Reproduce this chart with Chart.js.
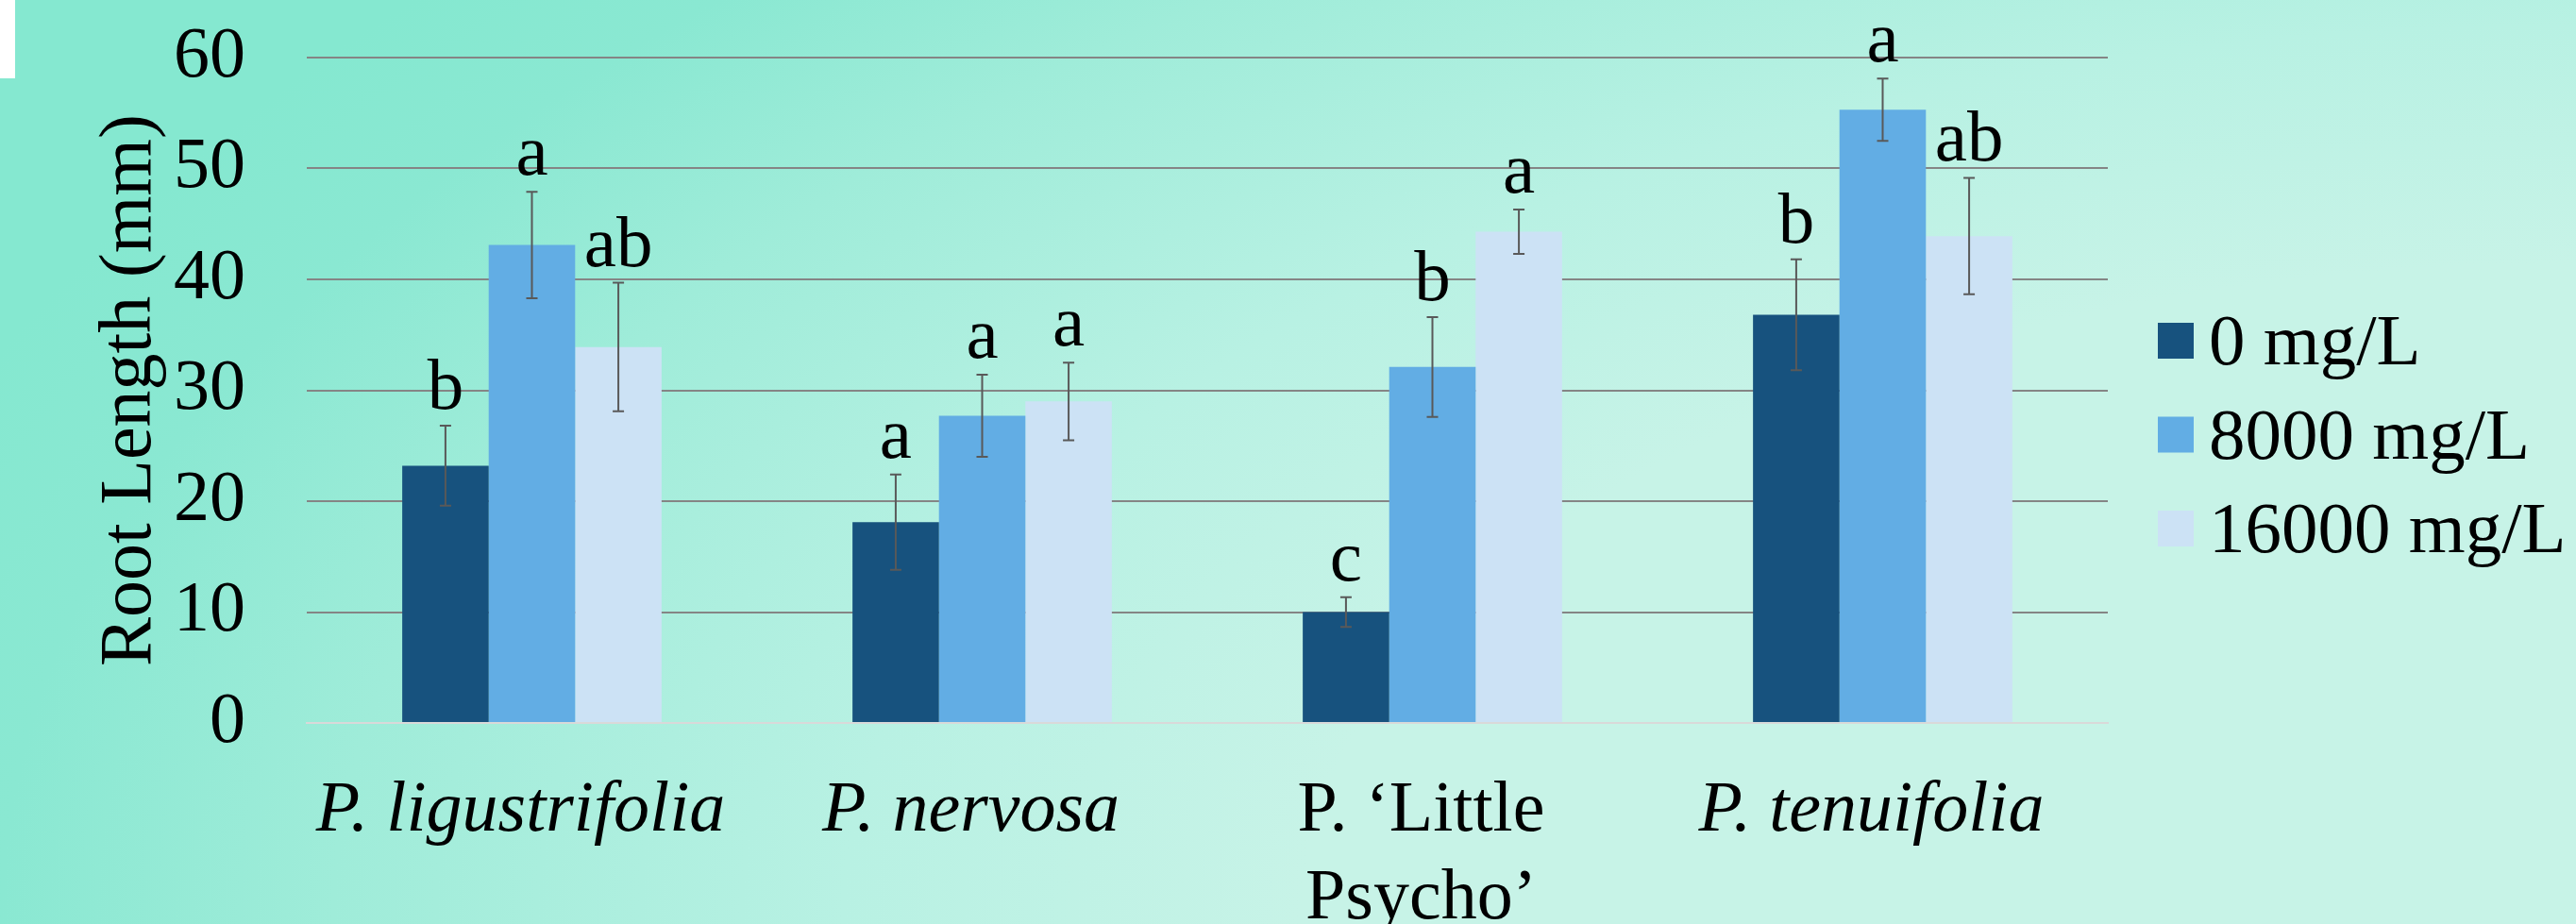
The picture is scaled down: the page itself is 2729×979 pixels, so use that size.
<!DOCTYPE html>
<html>
<head>
<meta charset="utf-8">
<script src="https://cdn.jsdelivr.net/npm/chart.js@4.4.1/dist/chart.umd.min.js"></script>
<style>
  html, body { margin: 0; padding: 0; }
  body {
    width: 2729px; height: 979px; overflow: hidden; position: relative;
    background: radial-gradient(ellipse 2700px 1400px at 2729px 979px,
      #c7f3e7 0%, #c7f3e7 50%, #b8f1e3 68%, #9fecd9 88%, #8ae8d2 101%, #85e8d0 110%);
  }
  #corner { position: absolute; left: 0; top: 0; width: 16px; height: 83px; background: #ffffff; }
  canvas { position: absolute; left: 0; top: 0; }
</style>
</head>
<body>
<div id="corner"></div>
<canvas id="chart" width="2729" height="979"></canvas>
<script>
// Species / cultivars on the category axis
const categories = ['P. ligustrifolia', 'P. nervosa', ['P. \u2018Little', 'Psycho\u2019'], 'P. tenuifolia'];

// Treatment names (legend)
const seriesNames = ['0 mg/L', '8000 mg/L', '16000 mg/L'];

// Mean root length (mm) per treatment
const root0 = [23.2, 18.1, 10.0, 36.8];
const root8000 = [43.1, 27.7, 32.1, 55.3];
const root16000 = [33.9, 29.0, 44.3, 43.9];

// Standard error of each mean (mm)
const err0 = [3.6, 4.3, 1.35, 5.0];
const err8000 = [4.8, 3.7, 4.5, 2.8];
const err16000 = [5.8, 3.5, 2.0, 5.25];

// Mean-separation letters
const letters0 = ['b', 'a', 'c', 'b'];
const letters8000 = ['a', 'a', 'b', 'a'];
const letters16000 = ['ab', 'a', 'a', 'ab'];

// Value axis
const yMin = 0;
const yMax = 60;
const yStep = 10;

const seriesColors = ['#17527e', '#62ade4', '#cce2f5'];
const SERIF = '"Liberation Serif", "Times New Roman", serif';

// Error bars with caps, plus the letter above each bar
const errorBarsAndLetters = {
  id: 'errorBarsAndLetters',
  afterDatasetsDraw(chart) {
    const ctx = chart.ctx;
    const y = chart.scales.y;
    chart.data.datasets.forEach((ds, di) => {
      const meta = chart.getDatasetMeta(di);
      meta.data.forEach((bar, i) => {
        const v = ds.data[i];
        const e = ds.errors[i];
        const yTop = y.getPixelForValue(v + e);
        const yBot = y.getPixelForValue(v - e);
        const x = bar.x;
        const cap = 6;
        ctx.save();
        ctx.strokeStyle = '#595959';
        ctx.lineWidth = 2;
        ctx.beginPath();
        ctx.moveTo(x, yTop); ctx.lineTo(x, yBot);
        ctx.moveTo(x - cap, yTop); ctx.lineTo(x + cap, yTop);
        ctx.moveTo(x - cap, yBot); ctx.lineTo(x + cap, yBot);
        ctx.stroke();
        ctx.fillStyle = '#000000';
        ctx.font = '77px ' + SERIF;
        ctx.textAlign = 'center';
        ctx.textBaseline = 'alphabetic';
        ctx.fillText(ds.letters[i], x, yTop - 18);
        ctx.restore();
      });
    });
  }
};

// Legend stacked at the right of the plot
const sideLegend = {
  id: 'sideLegend',
  afterDraw(chart) {
    const { ctx, chartArea } = chart;
    const box = 38;
    const x0 = chartArea.right + 53;
    const firstRow = chartArea.top + 300;
    const rowH = 99.5;
    ctx.save();
    ctx.font = '77px ' + SERIF;
    ctx.textAlign = 'left';
    ctx.textBaseline = 'alphabetic';
    chart.data.datasets.forEach((ds, i) => {
      const cy = firstRow + i * rowH;
      ctx.fillStyle = ds.backgroundColor;
      ctx.fillRect(x0, cy - box / 2, box, box);
      ctx.fillStyle = '#000000';
      ctx.fillText(ds.label, x0 + box + 16, cy + 25);
    });
    ctx.restore();
  }
};

new Chart(document.getElementById('chart'), {
  type: 'bar',
  data: {
    labels: categories,
    datasets: [
      { label: seriesNames[0], data: root0, errors: err0, letters: letters0, backgroundColor: seriesColors[0] },
      { label: seriesNames[1], data: root8000, errors: err8000, letters: letters8000, backgroundColor: seriesColors[1] },
      { label: seriesNames[2], data: root16000, errors: err16000, letters: letters16000, backgroundColor: seriesColors[2] }
    ]
  },
  options: {
    responsive: false,
    animation: false,
    layout: { padding: { top: 61, right: 496, bottom: 0, left: 0 } },
    datasets: { bar: { categoryPercentage: 0.576, barPercentage: 1.0, borderWidth: 0 } },
    plugins: { legend: { display: false }, tooltip: { enabled: false } },
    scales: {
      x: {
        grid: { display: false },
        border: { display: true, color: '#d9d9d9', width: 2 },
        ticks: {
          color: '#000000',
          padding: 40,
          labelOffset: -12,
          maxRotation: 0,
          autoSkip: false,
          font: (c) => ({ family: SERIF, size: 76, lineHeight: 1.22, style: c.index === 2 ? 'normal' : 'italic' })
        },
        afterFit(scale) { scale.height = 213; }
      },
      y: {
        min: yMin,
        max: yMax,
        ticks: { stepSize: yStep, color: '#000000', padding: 65, font: { family: SERIF, size: 76 } },
        grid: {
          color: (c) => (c.tick && c.tick.value === 0 ? 'rgba(0,0,0,0)' : '#858585'),
          lineWidth: 2,
          drawTicks: false
        },
        border: { display: false },
        title: {
          display: true,
          text: 'Root Length (mm)',
          color: '#000000',
          font: { family: SERIF, size: 78 },
          padding: { top: 92, bottom: 0 }
        },
        afterFit(scale) {
          scale.width = 325;
          // the top label may overhang the plot; the layout padding already leaves room
          scale.paddingTop = 0;
          scale.paddingBottom = 0;
        }
      }
    }
  },
  plugins: [errorBarsAndLetters, sideLegend]
});
</script>
</body>
</html>
